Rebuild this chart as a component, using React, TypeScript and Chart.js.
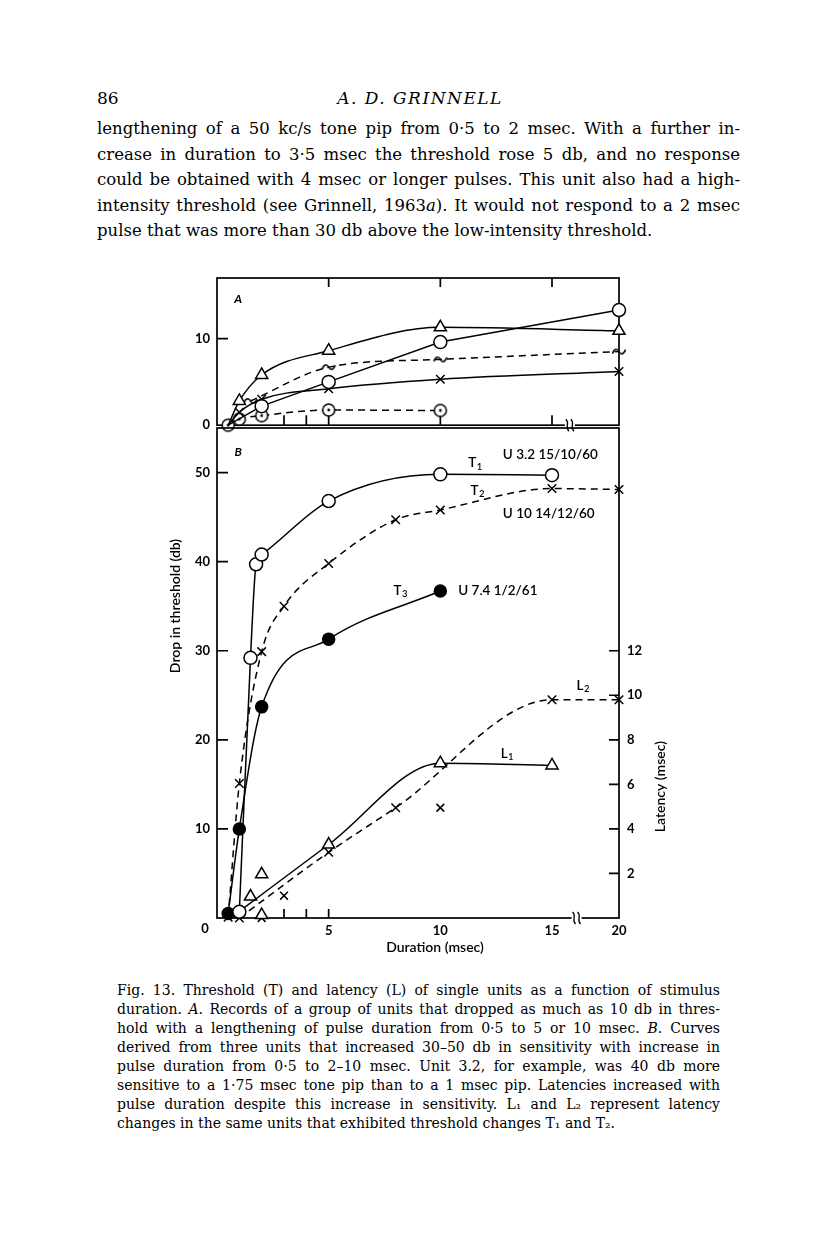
import React, { useEffect, useRef } from 'react';
import { Chart, registerables } from 'chart.js';
Chart.register(...registerables);

// ---------- Panel A data (drop in threshold, db) ----------
const aTriDur = [0.5, 1, 2, 5, 10, 20];
const aTriDrop = [0, 2.8, 5.8, 8.6, 11.3, 10.9];
const aCircDur = [0.5, 2, 5, 10, 20];
const aCircDrop = [0, 2.2, 5.0, 9.6, 13.3];
const aTildeDur = [1.5, 5, 10, 20];
const aTildeDrop = [2.8, 6.7, 7.6, 8.5];
const aCrossDur = [0.5, 1, 2, 5, 10, 20];
const aCrossDrop = [0, 1.5, 3.0, 4.2, 5.3, 6.2];
const aDotDur = [0.5, 1, 2, 5, 10];
const aDotDrop = [0, 0.7, 1.1, 1.75, 1.7];

// ---------- Panel B data ----------
const t1Dur = [1, 1.5, 1.75, 2, 5, 10, 15];
const t1Drop = [0.7, 29.2, 39.7, 40.8, 46.8, 49.8, 49.7];
const t2Dur = [0.5, 1, 2, 3, 5, 8, 10, 15, 20];
const t2Drop = [0.1, 15.1, 29.9, 35, 39.8, 44.7, 45.8, 48.2, 48.1];
const t3Dur = [0.5, 1, 2, 5, 10];
const t3Drop = [0.5, 10, 23.7, 31.3, 36.7];
const l1Dur = [1, 5, 10, 15];
const l1Lat = [0.3, 3.3, 6.95, 6.85];
const l1ExtraDur = [1.5, 2, 2];
const l1ExtraLat = [0.96, 1.96, 0.13];
const l2Dur = [1, 5, 8, 15, 20];
const l2Lat = [0, 2.95, 4.95, 9.8, 9.8];
const l2ExtraDur = [2, 3, 10];
const l2ExtraLat = [0, 1.0, 4.95];

// ---------- ticks ----------
const durTicks = [0, 5, 10, 15, 20];
const durMinorA = [3, 4, 5, 10, 15];
const durTopA = [5, 10, 15];
const durMinorB = [3, 4, 5];
const dropTicksA = [0, 10];
const dropTicksB = [10, 20, 30, 40, 50];
const latTicks = [2, 4, 6, 8, 10, 12];

// axis break: 20 msec is drawn where 18 would be
const BREAK_VALUE = 20;
const BREAK_POS = 18;
const toAxis = (d: number) => (d >= BREAK_VALUE ? BREAK_POS : d);
const pts = (xs: number[], ys: number[]) => xs.map((x, i) => ({ x: toAxis(x), y: ys[i] }));
const hideFirst = (r: number, n: number) => Array.from({ length: n }, (_, i) => (i === 0 ? 0 : r));

const SANS = 'Lato, "DejaVu Sans", sans-serif';
const SERIF = '"DejaVu Serif", serif';

// layout (page pixels)
const PLOT_LEFT = 217;
const PLOT_RIGHT = 619;
const A_TOP = 278;
const A_BOTTOM = 428;
const B_BOTTOM = 918;
const PAGE_W = 816;
const PAGE_H = 1249;
const A_CANVAS_H = 440;

const bLabels = [
  { t: 'T', s: '1', x: 11.25, y: 51.1, ax: 'y' },
  { t: 'U 3.2 15/10/60', s: '', x: 12.8, y: 52.0, ax: 'y' },
  { t: 'T', s: '2', x: 11.35, y: 48.0, ax: 'y' },
  { t: 'U 10 14/12/60', s: '', x: 12.8, y: 45.4, ax: 'y' },
  { t: 'T', s: '3', x: 7.9, y: 36.8, ax: 'y' },
  { t: 'U 7.4 1/2/61', s: '', x: 10.8, y: 36.8, ax: 'y' },
  { t: 'L', s: '2', x: 16.1, y: 10.45, ax: 'yL' },
  { t: 'L', s: '1', x: 12.7, y: 7.4, ax: 'yL' },
];

function makeTilde(): HTMLCanvasElement {
  const c = document.createElement('canvas');
  c.width = 16; c.height = 10;
  const g = c.getContext('2d')!;
  g.strokeStyle = '#000'; g.lineWidth = 1.6;
  g.beginPath();
  g.moveTo(1.5, 7);
  g.bezierCurveTo(3.5, 1.5, 6.5, 2, 8, 5);
  g.bezierCurveTo(9.5, 8, 12.5, 8.5, 14.5, 3);
  g.stroke();
  return c;
}
function makeDotCircle(): HTMLCanvasElement {
  const c = document.createElement('canvas');
  c.width = 16; c.height = 16;
  const g = c.getContext('2d')!;
  g.fillStyle = '#fff'; g.strokeStyle = '#000'; g.lineWidth = 1.5;
  g.beginPath(); g.arc(8, 8, 6, 0, Math.PI * 2); g.fill(); g.stroke();
  g.fillStyle = '#000';
  g.beginPath(); g.arc(8, 8, 1.4, 0, Math.PI * 2); g.fill();
  return c;
}

function drawBreak(ctx: CanvasRenderingContext2D, px: number, py: number) {
  ctx.save();
  ctx.fillStyle = '#fff';
  ctx.fillRect(px - 5, py - 2, 10, 4);
  ctx.strokeStyle = '#000'; ctx.lineWidth = 1.3;
  [-2.5, 2.5].forEach((dx) => {
    ctx.beginPath();
    ctx.moveTo(px + dx - 1.5, py - 6);
    ctx.bezierCurveTo(px + dx + 3, py - 2, px + dx - 3, py + 2, px + dx + 1.5, py + 6);
    ctx.stroke();
  });
  ctx.restore();
}

function drawSubText(ctx: CanvasRenderingContext2D, t: string, s: string, x: number, y: number) {
  ctx.font = `600 13.5px ${SANS}`;
  ctx.textAlign = 'left'; ctx.textBaseline = 'middle';
  ctx.fillText(t, x, y);
  if (s) {
    const w = ctx.measureText(t).width;
    ctx.font = `600 9.5px ${SANS}`;
    ctx.fillText(s, x + w + 0.5, y + 4);
  }
}

const base = {
  showLine: true,
  borderColor: '#000',
  borderWidth: 1.5,
  pointBorderColor: '#000',
  pointBorderWidth: 1.5,
  pointBackgroundColor: '#fff',
  cubicInterpolationMode: 'monotone',
  tension: 0.4,
  clip: false,
};

const tickFont = { family: SANS, size: 13, weight: 'bold' };

const pluginA = {
  id: 'decorA',
  beforeDatasetsDraw(chart: any) {
    const { ctx, chartArea: a, scales } = chart;
    const x = scales.x, y = scales.y;
    ctx.save();
    ctx.strokeStyle = '#000'; ctx.lineWidth = 1.7;
    ctx.strokeRect(a.left, a.top, a.right - a.left, a.bottom - a.top);
    ctx.beginPath();
    dropTicksA.filter((v) => v > 0).forEach((v) => {
      const p = y.getPixelForValue(v); ctx.moveTo(a.left, p); ctx.lineTo(a.left + 11, p);
    });
    durTopA.forEach((v) => {
      const p = x.getPixelForValue(v); ctx.moveTo(p, a.top); ctx.lineTo(p, a.top + 9);
    });
    durMinorA.forEach((v) => {
      const p = x.getPixelForValue(v); ctx.moveTo(p, a.bottom); ctx.lineTo(p, a.bottom - 10);
    });
    ctx.stroke();
    ctx.restore();
  },
  afterDraw(chart: any) {
    const { ctx, chartArea: a, scales } = chart;
    const x = scales.x, y = scales.y;
    ctx.save();
    drawBreak(ctx, x.getPixelForValue(15.8), a.bottom);
    ctx.fillStyle = '#000';
    ctx.font = `italic bold 12px ${SANS}`;
    ctx.textAlign = 'center'; ctx.textBaseline = 'middle';
    ctx.fillText('A', x.getPixelForValue(0.95), y.getPixelForValue(14.6));
    ctx.restore();
  },
};

const pluginB = {
  id: 'decorB',
  beforeDatasetsDraw(chart: any) {
    const { ctx, chartArea: a, scales } = chart;
    const x = scales.x, y = scales.y, yl = scales.yL;
    ctx.save();
    ctx.strokeStyle = '#000'; ctx.lineWidth = 1.7;
    ctx.strokeRect(a.left, a.top, a.right - a.left, a.bottom - a.top);
    ctx.beginPath();
    dropTicksB.forEach((v) => {
      const p = y.getPixelForValue(v); ctx.moveTo(a.left, p); ctx.lineTo(a.left + 11, p);
    });
    latTicks.forEach((v) => {
      const p = yl.getPixelForValue(v); ctx.moveTo(a.right, p); ctx.lineTo(a.right - 10, p);
    });
    durMinorB.forEach((v) => {
      const p = x.getPixelForValue(v); ctx.moveTo(p, a.bottom); ctx.lineTo(p, a.bottom - 9);
    });
    ctx.stroke();
    ctx.restore();
  },
  afterDraw(chart: any) {
    const { ctx, chartArea: a, scales } = chart;
    const x = scales.x;
    ctx.save();
    drawBreak(ctx, x.getPixelForValue(16.1), a.bottom);
    ctx.fillStyle = '#000';
    // "0" of the duration axis
    ctx.font = `bold 13px ${SANS}`;
    ctx.textAlign = 'center'; ctx.textBaseline = 'middle';
    ctx.fillText('0', x.getPixelForValue(0) - 12, a.bottom + 11);
    // panel letter
    ctx.font = `italic bold 12px ${SANS}`;
    ctx.fillText('B', x.getPixelForValue(0.95), scales.y.getPixelForValue(52.3));
    // curve labels
    bLabels.forEach((l) => {
      drawSubText(ctx, l.t, l.s, x.getPixelForValue(l.x), scales[l.ax].getPixelForValue(l.y));
    });
    // axis titles
    ctx.font = `600 14px ${SANS}`;
    ctx.textAlign = 'center'; ctx.textBaseline = 'middle';
    ctx.fillText('Duration (msec)', (a.left + a.right) / 2 + 17, a.bottom + 29);
    ctx.save();
    ctx.translate(a.left - 42, (A_TOP + a.bottom) / 2 + 8);
    ctx.rotate(-Math.PI / 2);
    ctx.fillText('Drop in threshold (db)', 0, 0);
    ctx.restore();
    ctx.save();
    ctx.translate(a.right + 41, scales.yL.getPixelForValue(5.9));
    ctx.rotate(-Math.PI / 2);
    ctx.fillText('Latency (msec)', 0, 0);
    ctx.restore();
    ctx.restore();
  },
};

const paraLines = [
  'lengthening of a 50 kc/s tone pip from 0·5 to 2 msec. With a further in-',
  'crease in duration to 3·5 msec the threshold rose 5 db, and no response',
  'could be obtained with 4 msec or longer pulses. This unit also had a high-',
  'intensity threshold (see Grinnell, 1963_a_). It would not respond to a 2 msec',
  'pulse that was more than 30 db above the low-intensity threshold.',
];
const captionLines = [
  'Fig. 13. Threshold (T) and latency (L) of single units as a function of stimulus',
  'duration. _A._ Records of a group of units that dropped as much as 10 db in thres-',
  'hold with a lengthening of pulse duration from 0·5 to 5 or 10 msec. _B._ Curves',
  'derived from three units that increased 30–50 db in sensitivity with increase in',
  'pulse duration from 0·5 to 2–10 msec. Unit 3.2, for example, was 40 db more',
  'sensitive to a 1·75 msec tone pip than to a 1 msec pip. Latencies increased with',
  'pulse duration despite this increase in sensitivity. L₁ and L₂ represent latency',
  'changes in the same units that exhibited threshold changes T₁ and T₂.',
];

function renderRich(s: string) {
  return s.split('_').map((part, i) => (i % 2 === 1 ? <i key={i}>{part}</i> : <span key={i}>{part}</span>));
}

export default function App() {
  const refA = useRef<HTMLCanvasElement>(null);
  const refB = useRef<HTMLCanvasElement>(null);

  useEffect(() => {
    Chart.defaults.color = '#000';
    const tilde = makeTilde();
    const dotc = makeDotCircle();

    const chartA = new Chart(refA.current!, {
      type: 'scatter',
      data: {
        datasets: [
          { ...base, data: pts(aTriDur, aTriDrop), pointStyle: 'triangle', pointRadius: hideFirst(7, aTriDur.length) },
          { ...base, data: pts(aCircDur, aCircDrop), pointStyle: 'circle', pointRadius: hideFirst(6.5, aCircDur.length), tension: 0, cubicInterpolationMode: 'default' },
          { ...base, data: pts(aTildeDur, aTildeDrop), borderDash: [7, 5], pointStyle: tilde, pointRadius: 6 },
          { ...base, data: pts(aCrossDur, aCrossDrop), pointStyle: 'crossRot', pointRadius: hideFirst(6, aCrossDur.length) },
          { ...base, data: pts(aDotDur, aDotDrop), borderDash: [7, 5], pointStyle: dotc, pointRadius: 6 },
        ] as any,
      },
      options: {
        responsive: false,
        animation: false,
        events: [],
        layout: { padding: { top: A_TOP, right: PAGE_W - PLOT_RIGHT, bottom: A_CANVAS_H - A_BOTTOM, left: 0 } },
        plugins: { legend: { display: false }, tooltip: { enabled: false } },
        scales: {
          x: { type: 'linear', min: 0, max: BREAK_POS, display: false },
          y: {
            type: 'linear', min: 0, max: 17, position: 'left',
            grid: { display: false, drawTicks: false },
            border: { display: false },
            afterFit: (s: any) => { s.width = PLOT_LEFT; },
            afterBuildTicks: (s: any) => { s.ticks = dropTicksA.map((v) => ({ value: v })); },
            ticks: { font: tickFont as any, padding: 7, color: '#000' },
          },
        } as any,
      },
      plugins: [pluginA],
    });

    const chartB = new Chart(refB.current!, {
      type: 'scatter',
      data: {
        datasets: [
          { ...base, data: pts(t1Dur, t1Drop), pointStyle: 'circle', pointRadius: 6.5, yAxisID: 'y' },
          { ...base, data: pts(t2Dur, t2Drop), borderDash: [7, 5], pointStyle: 'crossRot', pointRadius: 6, yAxisID: 'y' },
          { ...base, data: pts(t3Dur, t3Drop), pointStyle: 'circle', pointRadius: 6, pointBackgroundColor: '#000', yAxisID: 'y' },
          { ...base, data: pts(l1Dur, l1Lat), pointStyle: 'triangle', pointRadius: hideFirst(7, l1Dur.length), yAxisID: 'yL' },
          { ...base, showLine: false, data: pts(l1ExtraDur, l1ExtraLat), pointStyle: 'triangle', pointRadius: 7, yAxisID: 'yL' },
          { ...base, data: pts(l2Dur, l2Lat), borderDash: [7, 5], pointStyle: 'crossRot', pointRadius: 6, yAxisID: 'yL' },
          { ...base, showLine: false, data: pts(l2ExtraDur, l2ExtraLat), pointStyle: 'crossRot', pointRadius: 5.5, yAxisID: 'yL' },
        ] as any,
      },
      options: {
        responsive: false,
        animation: false,
        events: [],
        layout: { padding: { top: A_BOTTOM, right: 0, bottom: 0, left: 0 } },
        plugins: { legend: { display: false }, tooltip: { enabled: false } },
        scales: {
          x: {
            type: 'linear', min: 0, max: BREAK_POS, position: 'bottom',
            grid: { display: false, drawTicks: false },
            border: { display: false },
            afterFit: (s: any) => { s.height = PAGE_H - B_BOTTOM; },
            afterBuildTicks: (s: any) => { s.ticks = durTicks.filter((v) => v > 0).map((v) => ({ value: toAxis(v) })); },
            ticks: {
              font: tickFont as any, padding: 5, color: '#000', maxRotation: 0, autoSkip: false,
              callback: (v: any) => (v === BREAK_POS ? String(BREAK_VALUE) : String(v)),
            },
          },
          y: {
            type: 'linear', min: 0, max: 55, position: 'left',
            grid: { display: false, drawTicks: false },
            border: { display: false },
            afterFit: (s: any) => { s.width = PLOT_LEFT; },
            afterBuildTicks: (s: any) => { s.ticks = dropTicksB.map((v) => ({ value: v })); },
            ticks: { font: tickFont as any, padding: 7, color: '#000' },
          },
          yL: {
            type: 'linear', min: 0, max: 22, position: 'right',
            grid: { display: false, drawTicks: false },
            border: { display: false },
            afterFit: (s: any) => { s.width = PAGE_W - PLOT_RIGHT; },
            afterBuildTicks: (s: any) => { s.ticks = latTicks.map((v) => ({ value: v })); },
            ticks: { font: tickFont as any, padding: 8, color: '#000' },
          },
        } as any,
      },
      plugins: [pluginB],
    });

    return () => { chartA.destroy(); chartB.destroy(); };
  }, []);

  return (
    <div style={{ position: 'absolute', left: 0, top: 0, width: PAGE_W, height: PAGE_H, background: '#fff', overflow: 'hidden', color: '#000' }}>
      <div style={{ position: 'absolute', left: 97, top: 88, fontFamily: SERIF, fontSize: 17, lineHeight: '20px' }}>86</div>
      <div style={{ position: 'absolute', left: 220, top: 88, width: 400, textAlign: 'center', fontFamily: SERIF, fontStyle: 'italic', fontSize: 17, lineHeight: '20px', letterSpacing: 1.5 }}>A. D. GRINNELL</div>
      {paraLines.map((t, i) => (
        <div key={i} style={{ position: 'absolute', left: 97, top: 119 + i * 25.5, width: 643, fontFamily: SERIF, fontSize: 16.5, lineHeight: '20px', textAlign: 'justify', textAlignLast: i < paraLines.length - 1 ? 'justify' : 'left' } as any}>
          {renderRich(t)}
        </div>
      ))}
      {captionLines.map((t, i) => (
        <div key={i} style={{ position: 'absolute', left: 117, top: 981 + i * 19, width: 603, fontFamily: SERIF, fontSize: 14, lineHeight: '18px', textAlign: 'justify', textAlignLast: i < captionLines.length - 1 ? 'justify' : 'left' } as any}>
          {renderRich(t)}
        </div>
      ))}
      <canvas ref={refA} width={PAGE_W} height={A_CANVAS_H} style={{ position: 'absolute', left: 0, top: 0 }} />
      <canvas ref={refB} width={PAGE_W} height={PAGE_H} style={{ position: 'absolute', left: 0, top: 0 }} />
    </div>
  );
}
